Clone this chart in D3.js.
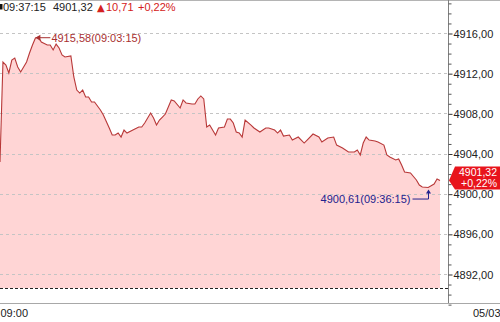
<!DOCTYPE html>
<html>
<head>
<meta charset="utf-8">
<script src="https://cdn.jsdelivr.net/npm/d3@7"></script>
<style>
  body { margin: 0; background: #fff; }
  svg { display: block; font-family: "Liberation Sans", Arial, sans-serif; }
</style>
</head>
<body>
<svg id="chart" width="500" height="322"></svg>
<script>
// 시간 (15초 단위)
var times = ["09:00:00","09:00:15","09:00:30","09:00:45","09:01:00","09:01:15","09:01:30","09:01:45","09:02:15","09:02:30",
  "09:02:45","09:03:00","09:03:15","09:03:30","09:04:00","09:04:15","09:04:30","09:04:45","09:05:00","09:05:15",
  "09:05:30","09:06:00","09:06:15","09:06:30","09:06:45","09:07:00","09:07:15","09:07:30","09:07:45","09:08:00",
  "09:08:30","09:08:45","09:09:15","09:09:30","09:09:45","09:10:00","09:10:15","09:10:30","09:10:45","09:11:15",
  "09:11:45","09:12:00","09:12:15","09:12:45","09:13:00","09:13:15","09:13:30","09:13:45","09:14:00","09:14:30",
  "09:14:45","09:15:15","09:15:30","09:15:45","09:16:15","09:16:30","09:16:45","09:17:00","09:17:15","09:17:30",
  "09:17:45","09:18:15","09:18:30","09:19:00","09:19:15","09:19:30","09:19:45","09:20:00","09:20:15","09:20:30",
  "09:20:45","09:21:15","09:21:30","09:22:00","09:22:30","09:22:45","09:23:15","09:23:30","09:23:45","09:24:00",
  "09:24:30","09:24:45","09:25:15","09:25:45","09:26:00","09:26:30","09:27:00","09:27:15","09:27:45","09:28:15",
  "09:28:30","09:29:00","09:29:30","09:30:00","09:30:15","09:30:30","09:30:45","09:31:00","09:31:15","09:31:45",
  "09:32:00","09:32:30","09:32:45","09:33:00","09:33:30","09:33:45","09:34:00","09:34:15","09:34:45","09:35:15",
  "09:35:30","09:35:45","09:36:15","09:36:45","09:37:00","09:37:15"];

// 지수 값
var values = [4903.15,4913.11,4912.81,4912.02,4913.31,4913.51,4912.61,4912.12,4913.11,4914.01,
  4914.80,4915.50,4915.58,4915.10,4914.80,4914.80,4914.31,4914.90,4914.51,4913.81,
  4913.61,4913.71,4911.62,4910.32,4910.02,4910.32,4909.63,4909.63,4909.13,4909.13,
  4908.33,4907.83,4906.54,4905.84,4905.84,4906.04,4905.64,4906.34,4906.04,4906.34,
  4906.64,4906.64,4907.04,4908.03,4907.53,4906.83,4907.33,4907.63,4907.93,4909.33,
  4909.23,4908.53,4909.33,4909.03,4908.93,4908.93,4909.43,4909.73,4909.43,4906.64,
  4906.83,4905.84,4906.54,4906.64,4907.43,4907.43,4907.04,4906.14,4906.04,4905.64,
  4907.33,4906.83,4906.54,4906.14,4906.54,4906.54,4906.34,4906.04,4906.34,4905.74,
  4905.84,4905.34,4905.64,4905.04,4905.34,4905.94,4905.64,4905.14,4905.54,4905.64,
  4904.84,4904.55,4904.15,4904.15,4904.35,4903.85,4905.04,4905.64,4905.34,4905.24,
  4905.14,4904.84,4903.85,4903.65,4903.35,4903.45,4902.85,4902.16,4902.06,4901.36,
  4900.86,4900.66,4900.61,4900.96,4901.46,4901.32];

var prevClose = 4890.61;           // 전일 종가
var yTicks = [4892, 4896, 4900, 4904, 4908, 4912, 4916];
var xTickLabels = ["09:00"];
var dateLabel = "05/03";

var parseTime = d3.timeParse("%H:%M:%S");
var data = times.map(function(t, i){
  return { time: parseTime(t), label: t, value: values[i] };
});

var krLocale = d3.formatLocale({ decimal: ",", thousands: "", grouping: [3], currency: ["", ""] });
var fmt = krLocale.format(".2f");

var svg = d3.select('#chart');
var plotRight = 448, plotBottom = 303;

var xScale = d3.scaleTime()
  .domain([data[0].time, data[data.length - 1].time])
  .range([0, 440]);

var yScale = d3.scaleLinear()
  .domain([4916, 4892])
  .range([33, 274]);

// 영역 + 라인
var area = d3.area()
  .x(function(d){ return xScale(d.time); })
  .y0(yScale(prevClose))
  .y1(function(d){ return yScale(d.value); });

var line = d3.line()
  .x(function(d){ return xScale(d.time); })
  .y(function(d){ return yScale(d.value); });

svg.append('path')
  .datum(data)
  .attr('d', area)
  .attr('fill', '#ffd5d5');

// 그리드
svg.append('g')
  .selectAll('line')
  .data(yTicks)
  .enter()
  .append('line')
  .attr('x1', 0)
  .attr('x2', plotRight)
  .attr('y1', function(d){ return Math.round(yScale(d)) + 0.5; })
  .attr('y2', function(d){ return Math.round(yScale(d)) + 0.5; })
  .attr('stroke', '#c4c4c4')
  .attr('stroke-dasharray', '3,3');

svg.append('path')
  .datum(data)
  .attr('d', line)
  .attr('fill', 'none')
  .attr('stroke', '#b83838')
  .attr('stroke-width', 1.1);

// 전일 종가 점선
svg.append('line')
  .attr('x1', 0).attr('x2', plotRight)
  .attr('y1', Math.round(yScale(prevClose)) + 0.5)
  .attr('y2', Math.round(yScale(prevClose)) + 0.5)
  .attr('stroke', '#222')
  .attr('stroke-dasharray', '3,2');

// 테두리
svg.append('line')
  .attr('x1', 0).attr('x2', 500).attr('y1', 0.5).attr('y2', 0.5)
  .attr('stroke', '#b4b4b4');
svg.append('line')
  .attr('x1', 0).attr('x2', 500).attr('y1', plotBottom + 0.5).attr('y2', plotBottom + 0.5)
  .attr('stroke', '#a8a8a8');
svg.append('line')
  .attr('x1', plotRight + 0.5).attr('x2', plotRight + 0.5).attr('y1', 0).attr('y2', plotBottom)
  .attr('stroke', '#808080');

// 오른쪽 축 (보조 눈금 + 주 눈금)
var minorTicks = d3.range(4889, 4920).filter(function(v){ return yTicks.indexOf(v) < 0; });
var minorAxis = d3.axisRight(yScale).tickValues(minorTicks).tickSize(3).tickFormat('');
var majorAxis = d3.axisRight(yScale).tickValues(yTicks).tickSize(4).tickPadding(1).tickFormat(fmt);

svg.append('g')
  .attr('transform', 'translate(' + (plotRight + 0.5) + ',0.5)')
  .call(minorAxis)
  .call(function(g){ g.select('.domain').remove(); })
  .selectAll('line').attr('stroke', '#555');

var yAxisG = svg.append('g')
  .attr('transform', 'translate(' + (plotRight + 0.5) + ',0.5)')
  .call(majorAxis)
  .call(function(g){ g.select('.domain').remove(); });
yAxisG.selectAll('line').attr('stroke', '#333');
yAxisG.selectAll('text')
  .attr('font-family', '"Liberation Sans", Arial, sans-serif')
  .attr('font-size', 11)
  .attr('fill', '#222');

// 아래 축
var xAxis = d3.axisBottom(xScale)
  .tickValues(xTickLabels.map(function(t){ return parseTime(t + ":00"); }))
  .tickSize(0)
  .tickFormat(d3.timeFormat("%H:%M"));
var xAxisG = svg.append('g')
  .attr('transform', 'translate(0,' + plotBottom + ')')
  .call(xAxis)
  .call(function(g){ g.select('.domain').remove(); });
xAxisG.selectAll('text')
  .attr('text-anchor', 'start')
  .attr('dy', null)
  .attr('y', 14)
  .attr('font-family', '"Liberation Sans", Arial, sans-serif')
  .attr('font-size', 11)
  .attr('fill', '#222');

svg.append('text')
  .attr('x', 473).attr('y', plotBottom + 14)
  .attr('font-size', 11).attr('fill', '#222')
  .text(dateLabel);

// 최고/최저 표시
var maxD = data.reduce(function(a, b){ return b.value > a.value ? b : a; });
var minD = data.reduce(function(a, b){ return b.value < a.value ? b : a; });

var mx = xScale(maxD.time) - 3, my = yScale(maxD.value);
svg.append('line')
  .attr('x1', mx + 2).attr('x2', mx + 15).attr('y1', my + 0.5).attr('y2', my + 0.5)
  .attr('stroke', '#a83030');
svg.append('path')
  .attr('d', 'M' + mx + ',' + (my + 0.5) + 'l5,-3l0,6z')
  .attr('fill', '#a83030');
svg.append('text')
  .attr('x', mx + 16).attr('y', my + 4.5)
  .attr('font-size', 11).attr('fill', '#a83030')
  .text(fmt(maxD.value) + '(' + maxD.label + ')');

var nx = Math.round(xScale(minD.time)) + 0.5, ny = yScale(minD.value);
svg.append('path')
  .attr('d', 'M' + (nx - 16) + ',' + (ny + 11.5) + 'H' + nx + 'V' + (ny + 4))
  .attr('fill', 'none')
  .attr('stroke', '#22228e');
svg.append('path')
  .attr('d', 'M' + nx + ',' + (ny + 2) + 'l-2.5,4h5z')
  .attr('fill', '#22228e');
svg.append('text')
  .attr('x', nx - 18).attr('y', ny + 15.5)
  .attr('text-anchor', 'end')
  .attr('font-size', 11).attr('fill', '#22228e')
  .text(fmt(minD.value) + '(' + minD.label + ')');

// 현재가 라벨
var last = data[data.length - 1];
var change = last.value - prevClose;
var changePct = change / prevClose * 100;
var ly = yScale(last.value);
svg.append('path')
  .attr('d', 'M449,' + ly + 'L455,' + (ly - 14) + 'H500V' + (ly + 9) + 'H455Z')
  .attr('fill', '#e8141c');
svg.append('text')
  .attr('x', 497).attr('y', ly - 4.5)
  .attr('text-anchor', 'end').attr('font-size', 10.5).attr('fill', '#fff')
  .text(fmt(last.value));
svg.append('text')
  .attr('x', 497).attr('y', ly + 6.5)
  .attr('text-anchor', 'end').attr('font-size', 10.5).attr('fill', '#fff')
  .text('+' + fmt(changePct) + '%');

// 상단 헤더
svg.append('rect')
  .attr('x', 0).attr('y', 4).attr('width', 2.5).attr('height', 5.5)
  .attr('fill', '#111');
var header = svg.append('text').attr('y', 11).attr('font-size', 11);
header.append('tspan').attr('x', 3).attr('fill', '#222').text(last.label);
header.append('tspan').attr('x', 53).attr('fill', '#222').text(fmt(last.value));
header.append('tspan').attr('x', 97).attr('fill', '#d42020')
  .attr('font-family', '"DejaVu Sans", sans-serif').attr('font-size', 10).text('▲');
header.append('tspan').attr('x', 106).attr('fill', '#d42020').text(fmt(change));
header.append('tspan').attr('x', 138).attr('fill', '#d42020').text('+' + fmt(changePct) + '%');
</script>
</body>
</html>
